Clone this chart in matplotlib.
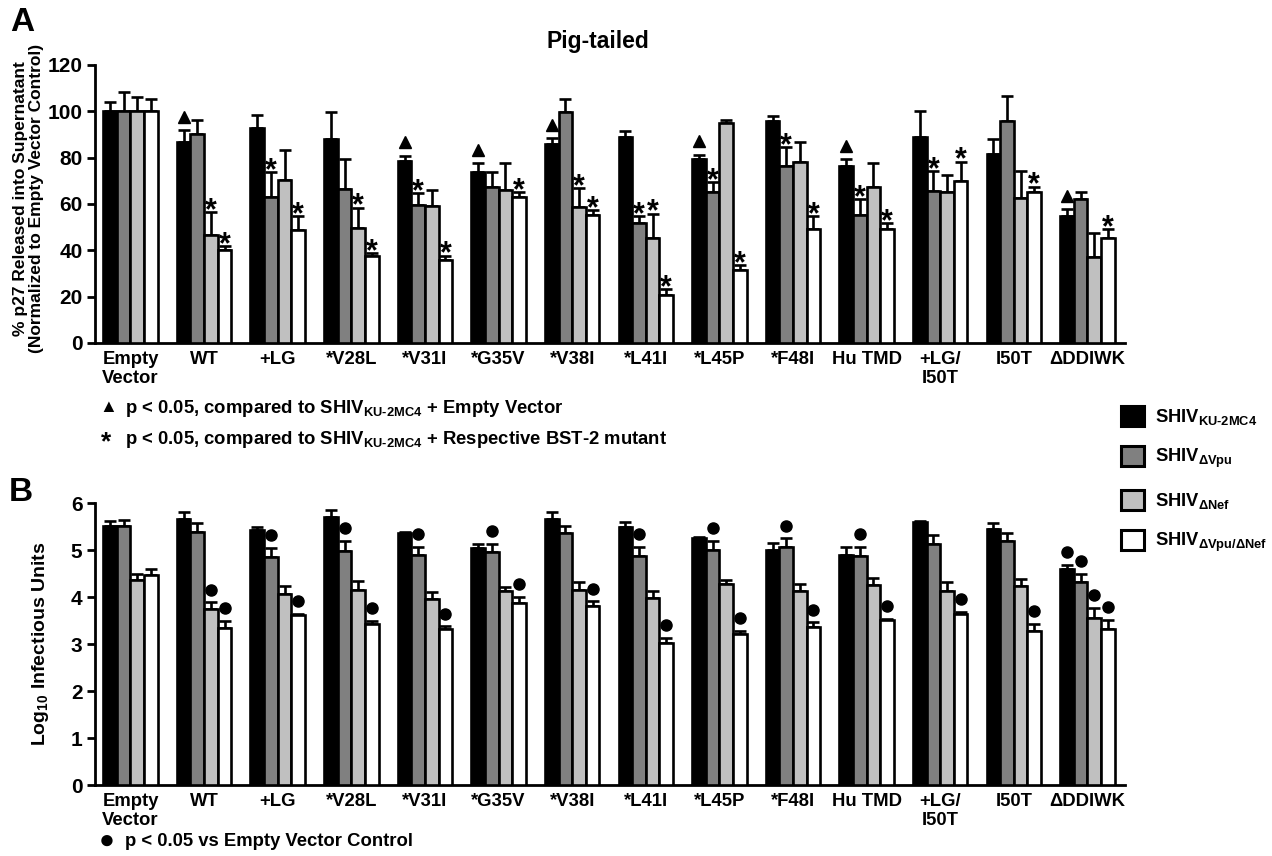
import numpy as np
import matplotlib
matplotlib.use("Agg")
from matplotlib import pyplot as plt
from matplotlib.patches import Patch

plt.rcParams['font.family'] = ['Liberation Sans', 'DejaVu Sans']
plt.rcParams['font.weight'] = 'bold'
plt.rcParams['mathtext.fontset'] = 'custom'
plt.rcParams['mathtext.rm'] = 'Liberation Sans:bold'
plt.rcParams['mathtext.bf'] = 'Liberation Sans:bold'
plt.rcParams['mathtext.it'] = 'Liberation Sans:bold'

# categories (BST-2 variants)
cats = ['Empty\nVector', 'WT', '+LG', '*V28L', '*V31I', '*G35V', '*V38I', '*L41I',
        '*L45P', '*F48I', 'Hu TMD', '+LG/\nI50T', 'I50T', '\u0394DDIWK']

series = ['SHIV$_{\\mathbf{KU\u20102MC4}}$', 'SHIV$_{\\mathbf{\u0394Vpu}}$',
          'SHIV$_{\\mathbf{\u0394Nef}}$', 'SHIV$_{\\mathbf{\u0394Vpu/\u0394Nef}}$']
colors = ['#000000', '#808080', '#c0c0c0', '#ffffff']

# panel A: % p27 released
p27_ku = [100, 86.7, 92.8, 88.2, 78.6, 74.0, 86.1, 89.0, 79.5, 95.8, 76.3, 89.0, 81.5, 54.8]
p27_ku_err = [3.9, 5.2, 5.5, 11.5, 2.3, 3.5, 2.3, 2.3, 1.7, 2.3, 3.0, 11.0, 6.5, 2.9]
p27_dvpu = [100, 90.2, 63.0, 66.3, 59.4, 67.2, 99.6, 52.0, 65.3, 76.4, 55.1, 65.8, 96.0, 62.0]
p27_dvpu_err = [8.2, 6.0, 10.7, 13.2, 5.2, 6.8, 5.7, 2.6, 4.2, 8.0, 7.0, 8.5, 10.5, 3.3]
p27_dnef = [100, 46.5, 70.4, 49.6, 59.1, 66.0, 58.8, 45.4, 94.9, 78.0, 67.2, 65.2, 62.4, 37.3]
p27_dnef_err = [6.2, 10.0, 12.8, 8.8, 6.9, 11.5, 8.0, 10.4, 1.2, 8.6, 10.5, 7.1, 11.9, 10.0]
p27_dboth = [100, 40.3, 48.8, 37.4, 36.0, 62.9, 55.1, 20.7, 31.4, 49.4, 49.1, 69.9, 65.2, 45.4]
p27_dboth_err = [5.3, 1.5, 6.0, 1.5, 1.7, 2.1, 2.3, 2.4, 2.1, 5.2, 2.5, 8.4, 2.3, 3.6]

# panel A significance: triangle (vs empty vector) on KU bars, stars on the others
tri_ku = [0, 1, 0, 0, 1, 1, 1, 0, 1, 0, 1, 0, 0, 1]
star_dvpu = [0, 0, 1, 0, 1, 0, 0, 1, 1, 1, 1, 1, 0, 0]
star_dnef = [0, 1, 0, 1, 0, 0, 1, 1, 0, 0, 0, 0, 0, 0]
star_dboth = [0, 1, 1, 1, 1, 1, 1, 1, 1, 1, 1, 1, 1, 1]

# panel B: log10 infectious units
iu_ku = [5.52, 5.67, 5.42, 5.71, 5.37, 5.05, 5.66, 5.50, 5.26, 5.00, 4.90, 5.59, 5.45, 4.60]
iu_ku_err = [0.10, 0.15, 0.08, 0.15, 0.01, 0.08, 0.14, 0.10, 0.01, 0.14, 0.17, 0.03, 0.13, 0.08]
iu_dvpu = [5.52, 5.39, 4.85, 4.99, 4.89, 4.95, 5.37, 4.87, 5.00, 5.07, 4.88, 5.12, 5.19, 4.32]
iu_dvpu_err = [0.11, 0.18, 0.19, 0.20, 0.18, 0.18, 0.15, 0.20, 0.19, 0.18, 0.19, 0.21, 0.17, 0.18]
iu_dnef = [4.36, 3.74, 4.07, 4.14, 3.95, 4.13, 4.16, 3.99, 4.28, 4.13, 4.26, 4.13, 4.23, 3.56]
iu_dnef_err = [0.13, 0.15, 0.16, 0.20, 0.16, 0.08, 0.15, 0.14, 0.09, 0.15, 0.14, 0.18, 0.15, 0.21]
iu_dboth = [4.48, 3.35, 3.62, 3.42, 3.33, 3.88, 3.81, 3.02, 3.21, 3.36, 3.52, 3.64, 3.28, 3.32]
iu_dboth_err = [0.11, 0.15, 0.02, 0.07, 0.05, 0.12, 0.10, 0.11, 0.07, 0.10, 0.02, 0.05, 0.15, 0.19]

# panel B significance dots (vs empty vector control)
dot_ku = [0, 0, 0, 0, 0, 0, 0, 0, 0, 0, 0, 0, 0, 1]
dot_dvpu = [0, 0, 1, 1, 1, 1, 0, 1, 1, 1, 1, 0, 0, 1]
dot_dnef = [0, 1, 0, 0, 0, 0, 0, 0, 0, 0, 0, 0, 0, 1]
dot_dboth = [0, 1, 1, 1, 1, 1, 1, 1, 1, 1, 1, 1, 1, 1]

fig = plt.figure(figsize=(12.72, 8.56), dpi=100)
axA = fig.add_axes([0.0747, 0.5993, 0.8097, 0.3248])
axB = fig.add_axes([0.0747, 0.0829, 0.8097, 0.3294])

x = np.arange(len(cats))
w = 0.185
offs = (np.arange(4) - 1.5) * w


def draw_bars(ax, vals, errs):
    for k in range(4):
        xs = x + offs[k]
        ax.bar(xs, vals[k], width=w, color=colors[k], edgecolor='black', linewidth=1.9, zorder=3)
        ax.errorbar(xs, vals[k], yerr=[np.zeros(len(x)), errs[k]], fmt='none', ecolor='black',
                    elinewidth=1.9, capsize=4, capthick=1.9, zorder=2)


def style_axis(ax, ymax, step):
    ax.set_xlim(-0.482, 13.51)
    ax.set_ylim(0, ymax)
    ax.set_yticks(np.arange(0, ymax + step / 2, step))
    for s in ['top', 'right']:
        ax.spines[s].set_visible(False)
    for s in ['left', 'bottom']:
        ax.spines[s].set_linewidth(2)
    ax.set_xticks(x)
    ax.set_xticklabels(cats, fontsize=13.3, fontweight='bold', linespacing=1.15)
    ax.tick_params(axis='x', length=0, pad=6)
    ax.tick_params(axis='y', length=6, width=2, labelsize=15, pad=3)
    for t in ax.get_yticklabels():
        t.set_fontweight('bold')


# panel A
a_vals = [p27_ku, p27_dvpu, p27_dnef, p27_dboth]
a_errs = [p27_ku_err, p27_dvpu_err, p27_dnef_err, p27_dboth_err]
draw_bars(axA, a_vals, a_errs)
style_axis(axA, 120, 20)
axA.set_ylabel('% p27 Released into Supernatant\n(Normalized to Empty Vector Control)',
               fontsize=12.5, fontweight='bold', linespacing=1.05)
axA.yaxis.set_label_coords(-0.05, 0.52)
fig.text(0.470, 0.951, 'Pig-tailed', fontsize=16.5, fontweight='bold', ha='center', va='center')

for i in range(len(x)):
    if tri_ku[i]:
        top = p27_ku[i] + p27_ku_err[i]
        axA.plot(x[i] + offs[0], top + 5.8, marker='^', color='black', markersize=8, zorder=4)
marks = [(1, star_dvpu), (2, star_dnef), (3, star_dboth)]
for k, flags in marks:
    for i in range(len(x)):
        if flags[i]:
            top = a_vals[k][i] + a_errs[k][i]
            axA.annotate('*', xy=(x[i] + offs[k], top), xytext=(0, -5), textcoords='offset points',
                         ha='center', va='baseline', fontsize=22, fontweight='bold', zorder=5)

# panel B
b_vals = [iu_ku, iu_dvpu, iu_dnef, iu_dboth]
b_errs = [iu_ku_err, iu_dvpu_err, iu_dnef_err, iu_dboth_err]
draw_bars(axB, b_vals, b_errs)
style_axis(axB, 6, 1)
axB.set_ylabel('Log$_{\\mathbf{10}}$ Infectious Units', fontsize=14, fontweight='bold')
axB.yaxis.set_label_coords(-0.043, 0.5)

dots = [dot_ku, dot_dvpu, dot_dnef, dot_dboth]
for k in range(4):
    for i in range(len(x)):
        if dots[k][i]:
            top = b_vals[k][i] + b_errs[k][i]
            axB.plot(x[i] + offs[k], top + 0.27, marker='o', color='black', markersize=8, zorder=4)

# panel letters and footnotes
fig.text(0.008, 0.992, 'A', fontsize=24, fontweight='bold', va='top')
fig.text(0.007, 0.443, 'B', fontsize=24, fontweight='bold', va='top')

fig.text(0.078, 0.524, '\u25b2', fontsize=13, va='center', ha='left')
fig.text(0.098, 0.523, 'p < 0.05, compared to SHIV$_{\\mathbf{KU\u20102MC4}}$ + Empty Vector',
         fontsize=13.3, fontweight='bold', va='center')
fig.text(0.079, 0.483, '*', fontsize=19, va='center', ha='left', fontweight='bold')
fig.text(0.098, 0.487, 'p < 0.05, compared to SHIV$_{\\mathbf{KU\u20102MC4}}$ + Respective BST-2 mutant',
         fontsize=13.3, fontweight='bold', va='center')
fig.text(0.078, 0.0175, '\u25cf', fontsize=19, va='center', ha='left')
fig.text(0.098, 0.0165, 'p < 0.05 vs Empty Vector Control', fontsize=13.3, fontweight='bold', va='center')

handles = [Patch(facecolor=c, edgecolor='black', linewidth=2.2) for c in colors]
fig.legend(handles, series, loc='upper left', bbox_to_anchor=(0.868, 0.545), frameon=False,
           fontsize=13.2, handlelength=1.3, handleheight=1.3, labelspacing=1.05, handletextpad=0.55)

fig.savefig('out.png', dpi=100)
